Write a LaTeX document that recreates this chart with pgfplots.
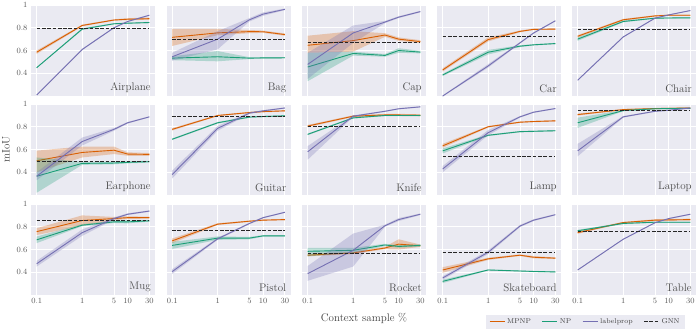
\documentclass[border=0pt]{standalone}
\usepackage{pgfplots}
\pgfplotsset{compat=1.18}
\usepackage{pgfplotstable}
\definecolor{bgc}{HTML}{EAEAF2}
\definecolor{c1}{HTML}{D95F02}
\definecolor{c2}{HTML}{1B9E77}
\definecolor{c3}{HTML}{7570B3}

\pgfplotstableread{
x m mlo mhi n nlo nhi l llo lhi
0.1 0.585 0.570 0.600 0.449 0.445 0.453 0.209 0.205 0.213
1 0.820 0.812 0.828 0.788 0.780 0.796 0.609 0.603 0.615
5 0.868 0.862 0.874 0.835 0.830 0.840 0.800 0.795 0.805
10 0.875 0.866 0.884 0.840 0.835 0.845 0.855 0.850 0.860
30 0.880 0.870 0.890 0.846 0.840 0.852 0.910 0.905 0.915
}\tAirplane
\pgfplotstableread{
x m mlo mhi n nlo nhi l llo lhi
0.1 0.716 0.64 0.79 0.533 0.515 0.550 0.545 0.51 0.58
1 0.755 0.735 0.79 0.545 0.505 0.595 0.70 0.61 0.77
5 0.766 0.752 0.780 0.533 0.525 0.541 0.870 0.855 0.885
10 0.765 0.755 0.775 0.535 0.528 0.542 0.920 0.905 0.935
30 0.740 0.730 0.750 0.536 0.530 0.542 0.962 0.955 0.969
}\tBag
\pgfplotstableread{
x m mlo mhi n nlo nhi l llo lhi
0.1 0.646 0.58 0.73 0.455 0.33 0.58 0.478 0.35 0.58
1 0.687 0.59 0.77 0.574 0.555 0.590 0.754 0.667 0.82
5 0.736 0.720 0.752 0.557 0.545 0.569 0.850 0.840 0.860
10 0.700 0.685 0.715 0.600 0.580 0.620 0.893 0.885 0.901
30 0.678 0.665 0.691 0.586 0.575 0.597 0.942 0.935 0.949
}\tCap
\pgfplotstableread{
x m mlo mhi n nlo nhi l llo lhi
0.1 0.429 0.415 0.443 0.385 0.375 0.395 0.200 0.195 0.205
1 0.696 0.680 0.715 0.585 0.565 0.605 0.464 0.450 0.480
5 0.768 0.760 0.776 0.638 0.630 0.646 0.667 0.660 0.674
10 0.786 0.780 0.792 0.650 0.644 0.656 0.754 0.748 0.760
30 0.788 0.782 0.794 0.661 0.655 0.667 0.861 0.856 0.866
}\tCar
\pgfplotstableread{
x m mlo mhi n nlo nhi l llo lhi
0.1 0.725 0.715 0.735 0.700 0.685 0.715 0.339 0.335 0.343
1 0.870 0.862 0.878 0.855 0.848 0.862 0.719 0.714 0.724
5 0.904 0.898 0.910 0.884 0.879 0.889 0.884 0.880 0.888
10 0.910 0.905 0.915 0.886 0.881 0.891 0.913 0.909 0.917
30 0.910 0.905 0.915 0.887 0.882 0.892 0.951 0.947 0.955
}\tChair
\pgfplotstableread{
x m mlo mhi n nlo nhi l llo lhi
0.1 0.501 0.40 0.59 0.365 0.22 0.53 0.365 0.33 0.40
1 0.574 0.53 0.626 0.478 0.465 0.491 0.670 0.635 0.705
5 0.594 0.56 0.626 0.481 0.470 0.492 0.777 0.765 0.789
10 0.560 0.545 0.575 0.487 0.478 0.496 0.835 0.828 0.842
30 0.557 0.545 0.569 0.493 0.485 0.501 0.887 0.882 0.892
}\tEarphone
\pgfplotstableread{
x m mlo mhi n nlo nhi l llo lhi
0.1 0.777 0.767 0.787 0.690 0.683 0.697 0.380 0.345 0.415
1 0.899 0.893 0.905 0.835 0.828 0.842 0.786 0.765 0.807
5 0.925 0.919 0.931 0.885 0.879 0.891 0.920 0.912 0.928
10 0.933 0.927 0.939 0.890 0.884 0.896 0.940 0.934 0.946
30 0.940 0.934 0.946 0.896 0.890 0.902 0.965 0.960 0.970
}\tGuitar
\pgfplotstableread{
x m mlo mhi n nlo nhi l llo lhi
0.1 0.806 0.796 0.816 0.733 0.726 0.740 0.580 0.51 0.63
1 0.893 0.885 0.901 0.878 0.872 0.884 0.893 0.886 0.900
5 0.904 0.895 0.913 0.899 0.894 0.904 0.936 0.931 0.941
10 0.904 0.895 0.913 0.899 0.894 0.904 0.958 0.953 0.963
30 0.901 0.892 0.910 0.899 0.894 0.904 0.975 0.970 0.980
}\tKnife
\pgfplotstableread{
x m mlo mhi n nlo nhi l llo lhi
0.1 0.632 0.615 0.650 0.588 0.565 0.610 0.429 0.400 0.455
1 0.800 0.793 0.807 0.725 0.718 0.732 0.748 0.725 0.771
5 0.840 0.834 0.846 0.757 0.751 0.763 0.887 0.880 0.894
10 0.846 0.840 0.852 0.760 0.754 0.766 0.928 0.922 0.934
30 0.852 0.846 0.858 0.765 0.759 0.771 0.960 0.955 0.965
}\tLamp
\pgfplotstableread{
x m mlo mhi n nlo nhi l llo lhi
0.1 0.907 0.898 0.916 0.835 0.79 0.88 0.588 0.54 0.65
1 0.951 0.946 0.956 0.942 0.937 0.947 0.887 0.880 0.894
5 0.960 0.955 0.965 0.958 0.953 0.963 0.936 0.931 0.941
10 0.962 0.957 0.967 0.960 0.955 0.965 0.945 0.940 0.950
30 0.965 0.960 0.970 0.962 0.957 0.967 0.965 0.960 0.970
}\tLaptop
\pgfplotstableread{
x m mlo mhi n nlo nhi l llo lhi
0.1 0.757 0.727 0.787 0.685 0.656 0.714 0.475 0.450 0.500
1 0.855 0.81 0.90 0.814 0.805 0.823 0.748 0.720 0.776
5 0.872 0.858 0.886 0.843 0.833 0.853 0.872 0.862 0.882
10 0.880 0.868 0.892 0.843 0.830 0.856 0.910 0.902 0.918
30 0.880 0.872 0.888 0.852 0.845 0.859 0.938 0.932 0.944
}\tMug
\pgfplotstableread{
x m mlo mhi n nlo nhi l llo lhi
0.1 0.676 0.655 0.697 0.636 0.605 0.667 0.406 0.385 0.427
1 0.823 0.815 0.831 0.700 0.685 0.715 0.694 0.685 0.703
5 0.849 0.843 0.855 0.700 0.690 0.710 0.829 0.822 0.836
10 0.858 0.852 0.864 0.720 0.713 0.727 0.880 0.874 0.886
30 0.863 0.857 0.869 0.720 0.713 0.727 0.927 0.922 0.932
}\tPistol
\pgfplotstableread{
x m mlo mhi n nlo nhi l llo lhi
0.1 0.550 0.540 0.560 0.584 0.54 0.615 0.388 0.325 0.455
1 0.570 0.560 0.580 0.593 0.570 0.615 0.593 0.45 0.74
5 0.613 0.603 0.623 0.640 0.630 0.650 0.809 0.800 0.818
10 0.647 0.60 0.69 0.627 0.617 0.637 0.863 0.850 0.876
30 0.633 0.623 0.643 0.636 0.626 0.646 0.910 0.903 0.917
}\tRocket
\pgfplotstableread{
x m mlo mhi n nlo nhi l llo lhi
0.1 0.420 0.395 0.445 0.320 0.305 0.335 0.350 0.335 0.365
1 0.518 0.508 0.528 0.420 0.415 0.425 0.576 0.560 0.592
5 0.550 0.543 0.557 0.411 0.406 0.416 0.806 0.796 0.816
10 0.532 0.522 0.542 0.407 0.402 0.412 0.858 0.850 0.866
30 0.524 0.517 0.531 0.403 0.398 0.408 0.906 0.900 0.912
}\tSkateboard
\pgfplotstableread{
x m mlo mhi n nlo nhi l llo lhi
0.1 0.748 0.738 0.758 0.765 0.757 0.773 0.420 0.416 0.424
1 0.837 0.831 0.843 0.829 0.823 0.835 0.690 0.686 0.694
5 0.858 0.850 0.866 0.840 0.835 0.845 0.835 0.831 0.839
10 0.860 0.852 0.868 0.840 0.835 0.845 0.872 0.868 0.876
30 0.863 0.855 0.871 0.840 0.835 0.845 0.910 0.906 0.914
}\tTable

% band between two columns via stacking, then reset the stack to zero
\newcommand{\plotser}[5]{%
  \addplot[#5, line width=0.9pt, forget plot] table[x=x,y=#2]{#1};
  \addplot[draw=none, stack plots=y, forget plot] table[x=x,y=#3]{#1};
  \addplot[draw=none, fill=#5, fill opacity=0.28, stack plots=y, forget plot] table[x=x,y expr=\thisrow{#4}-\thisrow{#3}]{#1} \closedcycle;
  \addplot[draw=none, stack plots=y, forget plot] table[x=x,y expr=-\thisrow{#4}]{#1};
}

\newcommand{\drawpanel}[6]{%
  \begin{axis}[scale only axis, width=124pt, height=91pt, anchor=north west,
    at={(#4pt,-#5pt)},
    xmode=log, xmin=0.075, xmax=40, ymin=0.2, ymax=1.0,
    xtick={0.1,1,5,10,30}, xticklabels={},
    ytick={0.4,0.6,0.8,1}, yticklabels={},
    grid=major, major grid style={white, line width=0.8pt},
    axis background/.style={fill=bgc},
    axis line style={draw=none}, tick style={draw=none},
    ticklabel style={font=\fontsize{8}{9}\selectfont, text=black!65},
    label style={font=\fontsize{11}{13}\selectfont, text=black!75},
    #6]
    \plotser{#1}{m}{mlo}{mhi}{c1}
    \plotser{#1}{n}{nlo}{nhi}{c2}
    \plotser{#1}{l}{llo}{lhi}{c3}
    \addplot[black!85, line width=0.9pt, dash pattern=on 3.7pt off 1.6pt, forget plot] coordinates {(0.1,#2) (30,#2)};
    \node[anchor=south east, inner sep=1pt, font=\fontsize{11}{13}\selectfont, text=black!70] at (rel axis cs:0.975,0.025) {#3};
  \end{axis}%
}

\begin{document}
\begin{tikzpicture}
\path[use as bounding box] (0pt,0pt) rectangle (698pt,-335pt);
% row 1
\drawpanel{\tAirplane}{0.797}{Airplane}{31}{5}{yticklabels={0.4,0.6,0.8,1}}
\drawpanel{\tBag}{0.700}{Bag}{166.5}{5}{}
\drawpanel{\tCap}{0.667}{Cap}{302}{5}{}
\drawpanel{\tCar}{0.725}{Car}{437}{5}{}
\drawpanel{\tChair}{0.783}{Chair}{572}{5}{}
% row 2
\drawpanel{\tEarphone}{0.499}{Earphone}{31}{104}{yticklabels={0.4,0.6,0.8,1}, ylabel={mIoU}}
\drawpanel{\tGuitar}{0.893}{Guitar}{166.5}{104}{}
\drawpanel{\tKnife}{0.800}{Knife}{302}{104}{}
\drawpanel{\tLamp}{0.542}{Lamp}{437}{104}{}
\drawpanel{\tLaptop}{0.945}{Laptop}{572}{104}{}
% row 3
\drawpanel{\tMug}{0.852}{Mug}{31}{204}{yticklabels={0.4,0.6,0.8,1}, xticklabels={0.1,1,5,10,30}}
\drawpanel{\tPistol}{0.765}{Pistol}{166.5}{204}{xticklabels={0.1,1,5,10,30}}
\drawpanel{\tRocket}{0.564}{Rocket}{302}{204}{xticklabels={0.1,1,5,10,30}, xlabel={Context sample \%}, xlabel style={yshift=-2pt}}
\drawpanel{\tSkateboard}{0.573}{Skateboard}{437}{204}{xticklabels={0.1,1,5,10,30}}
\drawpanel{\tTable}{0.763}{Table}{572}{204}{xticklabels={0.1,1,5,10,30}}
% legend
\begin{axis}[hide axis, scale only axis, width=698pt, height=335pt,
  at={(0pt,-335pt)}, anchor=south west, xmin=0, xmax=1, ymin=0, ymax=1,
  legend columns=4,
  legend style={at={(0.6963,0.0597)}, anchor=north west,
    fill=bgc, draw=none,
    font=\fontsize{7}{8}\selectfont, text=black!75,
    inner ysep=1.5pt, inner xsep=3pt,
    /tikz/every even column/.append style={column sep=9pt}},
]
\addlegendimage{legend image code/.code={\draw[c1, line width=0.9pt] (0pt,0pt) -- (15pt,0pt);}}
\addlegendimage{legend image code/.code={\draw[c2, line width=0.9pt] (0pt,0pt) -- (15pt,0pt);}}
\addlegendimage{legend image code/.code={\draw[c3, line width=0.9pt] (0pt,0pt) -- (15pt,0pt);}}
\addlegendimage{legend image code/.code={\draw[black!85, line width=0.9pt, dash pattern=on 3.7pt off 1.6pt] (0pt,0pt) -- (15pt,0pt);}}
\legend{MPNP,NP,labelprop,GNN}
\end{axis}
\end{tikzpicture}
\end{document}
